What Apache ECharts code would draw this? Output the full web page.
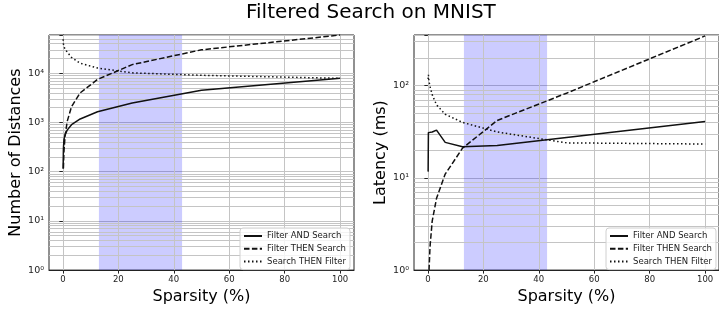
<!DOCTYPE html>
<html>
<head>
<meta charset="utf-8">
<script src="https://cdn.jsdelivr.net/npm/echarts@6/dist/echarts.min.js"></script>
<style>
    html, body { margin: 0; padding: 0; background: #fff; }
    #main { width: 719px; height: 310px; }
</style>
</head>
<body>
<div id="main"></div>
<script>
    // 稀疏度 (x 轴, %)
    var sparsity = [0.09765625, 0.1953125, 0.390625, 0.78125, 1.5625, 3.125, 6.25, 12.5, 25, 50, 100];

    // 左图: Number of Distances
    var distAndSearch  = [115, 290, 450, 560, 700, 900, 1180, 1650, 2500, 4500, 7900];
    var distThenSearch = [null, 117, 260, 520, 1050, 2100, 4000, 7500, 15000, 30000, 60000];
    var distSearchThen = [49000, 40000, 35000, 31000, 27000, 21000, 16000, 12800, 10200, 9100, 7900];

    // 右图: Latency (ms)
    var latAndSearch  = [11.7, 31, 30.5, 30, 31.5, 33, 24.3, 21.8, 22.5, 27.5, 41];
    var latThenSearch = [0.25, 0.5, 0.95, 1.8, 3.4, 6, 11, 21, 42, 83, 347];
    var latSearchThen = [118, 131, 112, 98, 80, 62, 49, 40, 31.5, 24, 23.3];

    // 阴影区间 (%)
    var band = [13, 43];

    var names = ['Filter AND Search', 'Filter THEN Search', 'Search THEN Filter'];
    var xTicks = [0, 20, 40, 60, 80, 100];
    var minorMult = [2, 3, 4, 5, 6, 7, 8, 9];

    var sup = ['\u2070', '\u00b9', '\u00b2', '\u00b3', '\u2074', '\u2075'];
    var lineTypes = ['solid', [5.5, 2.4], [1.5, 2.5]];

    function pairs(ys) {
        var out = [];
        for (var i = 0; i < sparsity.length; i++) {
            if (ys[i] != null) out.push([sparsity[i], ys[i]]);
        }
        return out;
    }

    // 网格线: x 主刻度 + 对数轴 2..9 倍的次要线
    function gridLines(maxVal) {
        var out = [];
        for (var i = 0; i < xTicks.length; i++) out.push({xAxis: xTicks[i]});
        for (var d = 1; d < maxVal; d *= 10) {
            for (var k = 0; k < minorMult.length; k++) {
                var v = minorMult[k] * d;
                if (v < maxVal) out.push({yAxis: v});
            }
        }
        return out;
    }

    var gridLine = '#c4c4c4';
    var fontFam = 'DejaVu Sans';

    function xAxisOf(idx) {
        return {
            type: 'value', gridIndex: idx, min: -5, max: 105,
            name: 'Sparsity (%)', nameLocation: 'middle', nameGap: 18,
            nameTextStyle: {fontSize: 16, color: '#000', fontFamily: fontFam},
            axisLine: {show: true, lineStyle: {color: '#222', width: 1}},
            axisTick: {show: true, length: 3.5, customValues: xTicks, lineStyle: {color: '#222'}},
            axisLabel: {
                fontSize: 8.5, color: '#222', margin: 5, fontFamily: fontFam,
                customValues: xTicks,
                formatter: function (v) { return xTicks.indexOf(v) >= 0 ? String(v) : ''; }
            },
            splitLine: {show: false}
        };
    }

    function yAxisOf(idx, maxVal, title, gap) {
        return {
            type: 'log', logBase: 10, gridIndex: idx, min: 1, max: maxVal,
            name: title, nameLocation: 'middle', nameGap: gap,
            nameTextStyle: {fontSize: 16, color: '#000', fontFamily: fontFam},
            axisLine: {show: true, lineStyle: {color: '#222', width: 1}},
            axisTick: {show: true, length: 3.5, lineStyle: {color: '#222'}},
            axisLabel: {
                fontSize: 9.5, color: '#222', margin: 5, fontFamily: fontFam,
                formatter: function (v) {
                    var l = Math.log(v) / Math.LN10;
                    var e = Math.round(l);
                    if (Math.abs(l - e) > 1e-6) return '';
                    return '10' + sup[e];
                }
            },
            splitLine: {show: true, lineStyle: {color: gridLine, width: 1}}
        };
    }

    function seriesOf(idx, datas, maxVal) {
        var list = [];
        // 网格线
        list.push({
            type: 'line', xAxisIndex: idx, yAxisIndex: idx, data: [], z: 1, silent: true,
            markLine: {
                z: 1, silent: true, symbol: 'none', animation: false,
                label: {show: false},
                lineStyle: {color: gridLine, width: 1, type: 'solid'},
                data: gridLines(maxVal)
            }
        });
        // 阴影区域
        list.push({
            type: 'line', xAxisIndex: idx, yAxisIndex: idx, data: [], z: 1, silent: true,
            markArea: {
                z: 1, silent: true,
                itemStyle: {color: 'rgba(0,0,255,0.2)'},
                data: [[{xAxis: band[0]}, {xAxis: band[1]}]]
            }
        });
        for (var i = 0; i < datas.length; i++) {
            list.push({
                name: names[i], type: 'line', xAxisIndex: idx, yAxisIndex: idx,
                data: pairs(datas[i]), symbol: 'none', z: 5,
                lineStyle: {color: '#111', width: 1.5, type: lineTypes[i]},
                itemStyle: {color: '#111'}
            });
        }
        return list;
    }

    function legendOf(left) {
        return {
            data: names, orient: 'vertical', left: left, top: 228,
            itemWidth: 18, itemHeight: 8, itemGap: 2.8,
            padding: [3, 4, 3, 3],
            borderColor: '#d0d0d0', borderWidth: 1, borderRadius: 3,
            backgroundColor: 'rgba(255,255,255,0.8)',
            itemStyle: {opacity: 0},
            textStyle: {fontSize: 8.5, color: '#222', fontFamily: fontFam, lineHeight: 10},
            selectedMode: false
        };
    }

    var option = {
        animation: false,
        backgroundColor: '#fff',
        title: {
            text: 'Filtered Search on MNIST', left: 246, top: 3, padding: 0,
            textStyle: {fontSize: 20, fontWeight: 'normal', color: '#000', fontFamily: fontFam}
        },
        grid: [
            {left: 49, top: 35, width: 305, height: 238, show: true, borderColor: '#222', borderWidth: 1},
            {left: 414, top: 35, width: 306, height: 238, show: true, borderColor: '#222', borderWidth: 1}
        ],
        xAxis: [xAxisOf(0), xAxisOf(1)],
        yAxis: [
            yAxisOf(0, 60000, 'Number of Distances', 25),
            yAxisOf(1, 355, 'Latency (ms)', 23)
        ],
        legend: [legendOf(240), legendOf(606)],
        series: seriesOf(0, [distAndSearch, distThenSearch, distSearchThen], 60000)
            .concat(seriesOf(1, [latAndSearch, latThenSearch, latSearchThen], 355))
    };

    var myChart = echarts.init(document.getElementById('main'));
    myChart.setOption(option);
</script>
</body>
</html>
